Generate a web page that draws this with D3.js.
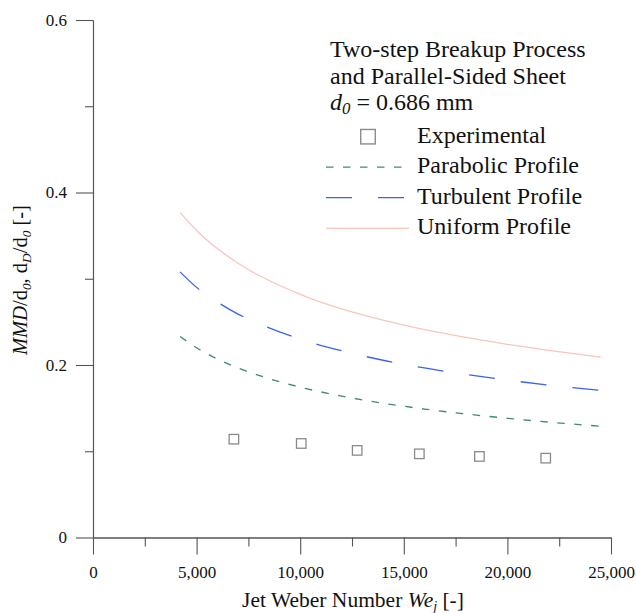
<!DOCTYPE html>
<html>
<head>
<meta charset="utf-8">
<script src="https://cdn.jsdelivr.net/npm/d3@7/dist/d3.min.js"></script>
<style>
  html, body { margin: 0; padding: 0; background: #fff; }
  svg { display: block; }
  text { font-family: "Liberation Serif", "Times New Roman", serif; fill: #111; }
</style>
</head>
<body>
<svg id="chart" width="636" height="613"></svg>
<script>
// Jet Weber number samples for the model curves
const weModel = [4200, 5000, 6000, 7000, 8000, 10000, 12000, 14000, 16000, 18000, 20000, 22000, 24500];
// Normalised drop diameter predicted by each velocity profile
const parabolic = [0.233, 0.220, 0.207, 0.1965, 0.188, 0.1743, 0.164, 0.1557, 0.1489, 0.1432, 0.1382, 0.1338, 0.129];
const turbulent = [0.308, 0.290, 0.273, 0.259, 0.248, 0.230, 0.2165, 0.2055, 0.1966, 0.189, 0.1825, 0.1767, 0.1705];
const uniform   = [0.377, 0.356, 0.335, 0.318, 0.304, 0.282, 0.265, 0.252, 0.241, 0.232, 0.224, 0.217, 0.209];
// Measured MMD/d0
const weExp  = [6800, 10050, 12750, 15750, 18650, 21850];
const mmdExp = [0.114, 0.109, 0.101, 0.097, 0.094, 0.092];
// Axis ticks
const xTicks = [0, 5000, 10000, 15000, 20000, 25000];
const xMinor = [2500, 7500, 12500, 17500, 22500];
const yTicks = [0, 0.2, 0.4, 0.6];
const yMinor = [0.1, 0.3, 0.5];

const serif = '"Liberation Serif", "Times New Roman", serif';
const svg = d3.select("#chart");
const axisColor = "#555";

const x = d3.scaleLinear().domain([0, 25000]).range([93, 611]);
const y = d3.scaleLinear().domain([0, 0.6]).range([537.5, 20]);

function styleAxis(g) {
  g.attr("font-family", serif);
  g.select(".domain").attr("stroke", axisColor).attr("stroke-width", 1.1);
  g.selectAll(".tick line").attr("stroke", axisColor).attr("stroke-width", 1.1);
  g.selectAll(".tick text").style("font-family", serif)
    .attr("font-size", 17).attr("fill", "#111");
}

// minor ticks
svg.append("g").attr("transform", `translate(0,${y(0)})`)
  .call(d3.axisBottom(x).tickValues(xMinor).tickSize(9).tickSizeOuter(0).tickFormat(""))
  .call(styleAxis);
svg.append("g").attr("transform", `translate(${x(0)},0)`)
  .call(d3.axisLeft(y).tickValues(yMinor).tickSize(8).tickSizeOuter(0).tickFormat(""))
  .call(styleAxis);

// major ticks
svg.append("g").attr("transform", `translate(0,${y(0)})`)
  .call(d3.axisBottom(x).tickValues(xTicks).tickSize(17).tickSizeOuter(0)
    .tickPadding(11.5).tickFormat(d3.format(",")))
  .call(styleAxis);
svg.append("g").attr("transform", `translate(${x(0)},0)`)
  .call(d3.axisLeft(y).tickValues(yTicks).tickSize(17).tickSizeOuter(0)
    .tickPadding(9).tickFormat(d => d === 0 ? "0" : d3.format(".1f")(d)))
  .call(styleAxis);

// model curves
const series = [
  { name: "Parabolic Profile", values: parabolic, color: "#3e8e63", dash: "7.5,9.5", width: 1.3 },
  { name: "Turbulent Profile", values: turbulent, color: "#3a62f2", dash: "26,26", width: 1.3 },
  { name: "Uniform Profile",   values: uniform,   color: "#f8c6bd", dash: null,    width: 1.3 }
];
const line = d3.line().curve(d3.curveMonotoneX);
series.forEach(s => {
  svg.append("path")
    .attr("d", line(weModel.map((w, i) => [x(w), y(s.values[i])])))
    .attr("fill", "none")
    .attr("stroke", s.color)
    .attr("stroke-width", s.width)
    .attr("stroke-dasharray", s.dash);
});

// experimental points
const sq = 9.5;
svg.append("g").selectAll("rect").data(weExp).join("rect")
  .attr("x", (w) => x(w) - sq / 2)
  .attr("y", (w, i) => y(mmdExp[i]) - sq / 2)
  .attr("width", sq).attr("height", sq)
  .attr("fill", "none").attr("stroke", "#8a8a8a").attr("stroke-width", 1.3);

// legend
const lg = svg.append("g");
const lfs = 24;
["Two-step Breakup Process", "and Parallel-Sided Sheet"].forEach((t, i) => {
  lg.append("text").attr("x", 330).attr("y", 57 + i * 26.5).attr("font-size", lfs).text(t);
});
const d0 = lg.append("text").attr("x", 330).attr("y", 110).attr("font-size", lfs);
d0.append("tspan").attr("font-style", "italic").text("d");
d0.append("tspan").attr("font-style", "italic").attr("font-size", lfs * 0.7).attr("dy", 4).text("0");
d0.append("tspan").attr("dy", -4).text(" = 0.686 mm");

const rowY = [136.7, 167.2, 197.7, 228.3];
lg.append("rect").attr("x", 368 - 7.25).attr("y", rowY[0] - 7.25)
  .attr("width", 14.5).attr("height", 14.5)
  .attr("fill", "none").attr("stroke", "#8a8a8a").attr("stroke-width", 1.4);
lg.append("text").attr("x", 417).attr("y", rowY[0] + 6).attr("font-size", lfs).text("Experimental");
series.forEach((s, i) => {
  const yy = rowY[i + 1];
  lg.append("line").attr("x1", 326).attr("x2", 409).attr("y1", yy).attr("y2", yy)
    .attr("stroke", s.color).attr("stroke-width", s.width).attr("stroke-dasharray", s.dash);
  lg.append("text").attr("x", 417).attr("y", yy + 6).attr("font-size", lfs).text(s.name);
});

// axis titles
const tfs = 21.5;
const xt = svg.append("text").attr("x", 353).attr("y", 607).attr("text-anchor", "middle").attr("font-size", tfs);
xt.append("tspan").text("Jet Weber Number ");
xt.append("tspan").attr("font-style", "italic").text("We");
xt.append("tspan").attr("font-style", "italic").attr("font-size", tfs * 0.65).attr("dy", 4).text("j");
xt.append("tspan").attr("dy", -4).text(" [-]");

const yfs = 20.5;
const yt = svg.append("text").attr("transform", "translate(27,280) rotate(-90)")
  .attr("text-anchor", "middle").attr("font-size", yfs);
const sub = (txt, it) => {
  yt.append("tspan").attr("font-style", it ? "italic" : null).attr("font-size", yfs * 0.65).attr("dy", 4).text(txt);
};
yt.append("tspan").attr("font-style", "italic").text("MMD");
yt.append("tspan").text("/d");
sub("0", true);
yt.append("tspan").attr("dy", -4).text(", d");
sub("D", true);
yt.append("tspan").attr("dy", -4).text("/d");
sub("0", true);
yt.append("tspan").attr("dy", -4).text(" [-]");
</script>
</body>
</html>
